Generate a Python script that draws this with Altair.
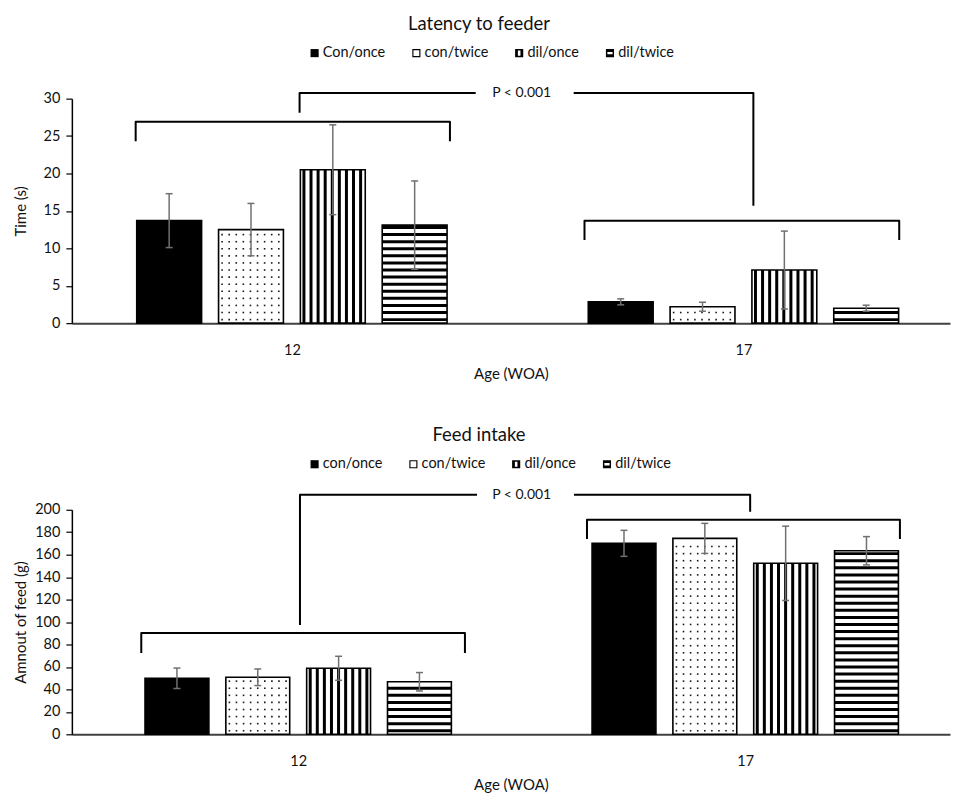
import altair as alt
import pandas as pd

# ---------------- data ----------------
AGES = ["12", "17"]
TOP_SERIES = ["Con/once", "con/twice", "dil/once", "dil/twice"]
BOT_SERIES = ["con/once", "con/twice", "dil/once", "dil/twice"]

LAT_MEAN_12 = [13.7, 12.5, 20.5, 13.1]
LAT_MEAN_17 = [2.85, 2.2, 7.1, 2.0]
LAT_ERR_12 = [3.6, 3.5, 6.0, 5.9]
LAT_ERR_17 = [0.4, 0.6, 5.2, 0.4]

FEED_MEAN_12 = [49.9, 50.8, 58.8, 46.8]
FEED_MEAN_17 = [170.1, 174.5, 152.3, 163.5]
FEED_ERR_12 = [9.1, 7.4, 10.7, 8.2]
FEED_ERR_17 = [11.6, 13.4, 33.1, 12.6]

TOP_YTICKS = [0, 5, 10, 15, 20, 25, 30]
BOT_YTICKS = [0, 20, 40, 60, 80, 100, 120, 140, 160, 180, 200]

# significance annotations (x in category units, y in data units)
TOP_BRACKETS = [
    [(0.154, 24.3), (0.154, 26.9), (0.850, 26.9), (0.850, 24.3)],
    [(1.148, 11.1), (1.148, 13.7), (1.845, 13.7), (1.845, 11.1)],
    [(0.517, 28.1), (0.517, 30.75), (0.907, 30.75)],
    [(1.124, 30.75), (1.522, 30.75), (1.522, 15.7)],
]
TOP_PTEXT = [(1.009, 30.75, "P < 0.001")]

BOT_BRACKETS = [
    [(0.149, 72.4), (0.149, 90.2), (0.873, 90.2), (0.873, 72.4)],
    [(1.146, 173.9), (1.146, 191.1), (1.846, 191.1), (1.846, 173.9)],
    [(0.504, 97.3), (0.504, 213.4), (0.900, 213.4)],
    [(1.117, 213.4), (1.511, 213.4), (1.511, 198.2)],
]
BOT_PTEXT = [(1.000, 213.4, "P < 0.001")]

# ---------------- styling ----------------
FONT = "Lato"
W, H = 880, 225
PITCH = 7.1          # px spacing of hatch lines / dots
ERR_COLOR = "#707070"
SHAPES = [
    "M-1,-1H1V1H-1Z",
    "M-1,-1H1V1H-1Z M-0.72,-0.72V0.72H0.72V-0.72Z",
    "M-1,-1H1V1H-1Z M-0.32,-0.64V0.64H0.32V-0.64Z",
    "M-1,-1H1V1H-1Z M-0.64,-0.3V0.3H0.64V-0.3Z",
]
FILLS = ["black", "white", "white", "white"]


def make_panel(title, series, means, errs, yticks, ytitle, kx, d0, step_px,
               barw_px, brackets, ptext, title_dx):
    ymax = yticks[-1]
    ky = H / ymax
    xs = alt.Scale(domain=[d0, d0 + W / kx], nice=False, zero=False)
    ys = alt.Scale(domain=[0, ymax], nice=False, zero=True)

    rows = []
    for gi, age in enumerate(AGES):
        for si, s in enumerate(series):
            c = gi + 0.5 + (si - 1.5) * step_px / kx
            m, e = means[gi][si], errs[gi][si]
            rows.append(dict(age=age, series=s, pat=si, fc=FILLS[si], xc=c,
                             xl=c - barw_px / 2 / kx, xr=c + barw_px / 2 / kx,
                             val=m, lo=m - e, hi=m + e,
                             cl=c - 3.5 / kx, cr=c + 3.5 / kx, zero=0.0))
    bars = pd.DataFrame(rows)

    vst, hst, dots = [], [], []
    for r in rows:
        hpx = r["val"] * ky
        if r["pat"] == 2:
            k = 0
            while (k + 0.5) * PITCH < barw_px - 1.5:
                vst.append(dict(x=r["xl"] + (k + 0.5) * PITCH / kx, y=0.0, y2=r["val"]))
                k += 1
        elif r["pat"] == 3:
            k = 0
            while (k + 0.5) * PITCH + 1.0 < hpx:
                hst.append(dict(x=r["xl"], x2=r["xr"], y=(k + 0.5) * PITCH / ky))
                k += 1
        elif r["pat"] == 1:
            j = 0
            while (j + 0.5) * PITCH + 1.5 < hpx:
                i = 0
                while (i + 0.5) * PITCH < barw_px - 1.5:
                    dots.append(dict(x=r["xl"] + (i + 0.5) * PITCH / kx,
                                     y=(j + 0.5) * PITCH / ky))
                    i += 1
                j += 1
    vst, hst, dots = pd.DataFrame(vst), pd.DataFrame(hst), pd.DataFrame(dots)

    lines = []
    for gid, path in enumerate(brackets):
        for o, (x, y) in enumerate(path):
            lines.append(dict(g=gid, o=o, x=x, y=y))
    lines = pd.DataFrame(lines)
    ptx = pd.DataFrame([dict(x=a, y=b, t=t) for a, b, t in ptext])

    xaxis = alt.Axis(values=[0.5, 1.5],
                     labelExpr=f"datum.value < 1 ? '{AGES[0]}' : '{AGES[1]}'",
                     ticks=False, grid=False, title="Age (WOA)",
                     domainColor="#404040", domainWidth=2,
                     labelFont=FONT, labelFontSize=14.5, labelColor="#111",
                     labelPadding=20, titleFont=FONT, titleFontSize=15,
                     titleFontWeight="normal", titleColor="#111", titlePadding=10)
    yaxis = alt.Axis(values=yticks, grid=False, title=ytitle,
                     domainColor="#000", domainWidth=1.5, tickColor="#000",
                     tickSize=6, tickWidth=1.2, labelPadding=6,
                     labelFont=FONT, labelFontSize=14.5, labelColor="#111",
                     titleFont=FONT, titleFontSize=15, titleFontWeight="normal",
                     titleColor="#111", titleX=-51, titleBaseline="middle")

    def X(f):
        return alt.X(f, scale=xs, axis=xaxis)

    def Y(f):
        return alt.Y(f, scale=ys, axis=yaxis)

    base = alt.Chart(bars)
    fill = base.mark_rect().encode(
        x=X("xl:Q"), x2="xr:Q", y=Y("val:Q"), y2="zero:Q",
        color=alt.Color("fc:N", scale=None),
    )
    vlayer = alt.Chart(vst).mark_rule(color="black", strokeWidth=3).encode(
        x=X("x:Q"), y=Y("y:Q"), y2="y2:Q")
    hlayer = alt.Chart(hst).mark_rule(color="black", strokeWidth=3).encode(
        x=X("x:Q"), x2="x2:Q", y=Y("y:Q"))
    dlayer = alt.Chart(dots).mark_square(color="#1a1a1a", size=2.6, opacity=1).encode(
        x=X("x:Q"), y=Y("y:Q"))
    outline = base.mark_rect(fillOpacity=0, stroke="black", strokeWidth=1.6).encode(
        x=X("xl:Q"), x2="xr:Q", y=Y("val:Q"), y2="zero:Q")
    err = base.mark_rule(color=ERR_COLOR, strokeWidth=1.5).encode(
        x=X("xc:Q"), y=Y("lo:Q"), y2="hi:Q")
    cap_hi = base.mark_rule(color=ERR_COLOR, strokeWidth=1.5).encode(
        x=X("cl:Q"), x2="cr:Q", y=Y("hi:Q"))
    cap_lo = base.mark_rule(color=ERR_COLOR, strokeWidth=1.5).encode(
        x=X("cl:Q"), x2="cr:Q", y=Y("lo:Q"))
    brk = alt.Chart(lines).mark_line(color="black", strokeWidth=2, strokeJoin="round").encode(
        x=X("x:Q"), y=Y("y:Q"), detail="g:N", order="o:Q")
    ptxt = alt.Chart(ptx).mark_text(font=FONT, fontSize=14, color="#111",
                                    baseline="middle", align="center").encode(
        x=X("x:Q"), y=Y("y:Q"), text="t:N")

    leg = alt.Legend(orient="none", legendX=236, legendY=-53, direction="horizontal",
                     title=None, labelFont=FONT, labelFontSize=14.5, labelColor="#111",
                     symbolSize=66, symbolOpacity=1, symbolStrokeWidth=0,
                     columnPadding=23, labelOffset=1, padding=0)
    legend_layer = base.mark_point(filled=True, size=1, opacity=0.01).encode(
        x=X("xc:Q"), y=Y("zero:Q"),
        fill=alt.Fill("series:N", scale=alt.Scale(domain=series, range=["black"] * 4), legend=leg),
        shape=alt.Shape("series:N", scale=alt.Scale(domain=series, range=SHAPES), legend=leg),
    )

    return alt.layer(fill, vlayer, hlayer, dlayer, outline, err, cap_hi, cap_lo,
                     brk, ptxt, legend_layer).properties(
        width=W, height=H,
        title=alt.TitleParams(title, font=FONT, fontSize=18.5, fontWeight="normal",
                              color="#111", anchor="middle", dx=title_dx, offset=12),
    )


top = make_panel("Latency to feeder", TOP_SERIES,
                 [LAT_MEAN_12, LAT_MEAN_17], [LAT_ERR_12, LAT_ERR_17],
                 TOP_YTICKS, "Time (s)", kx=452.5, d0=0.0127, step_px=82,
                 barw_px=65, brackets=TOP_BRACKETS, ptext=TOP_PTEXT, title_dx=-32)
bottom = make_panel("Feed intake", BOT_SERIES,
                    [FEED_MEAN_12, FEED_MEAN_17], [FEED_ERR_12, FEED_ERR_17],
                    BOT_YTICKS, "Amnout of feed (g)", kx=448, d0=-0.00625, step_px=81,
                    barw_px=64, brackets=BOT_BRACKETS, ptext=BOT_PTEXT, title_dx=-32)

chart = alt.vconcat(top, bottom, spacing=44).properties(
    padding={"left": 6, "top": 6, "right": 2, "bottom": 1}
).configure_view(stroke=None).resolve_scale(fill="independent", shape="independent")

chart.save("out.html", embed_options={"renderer": "svg", "actions": False})
